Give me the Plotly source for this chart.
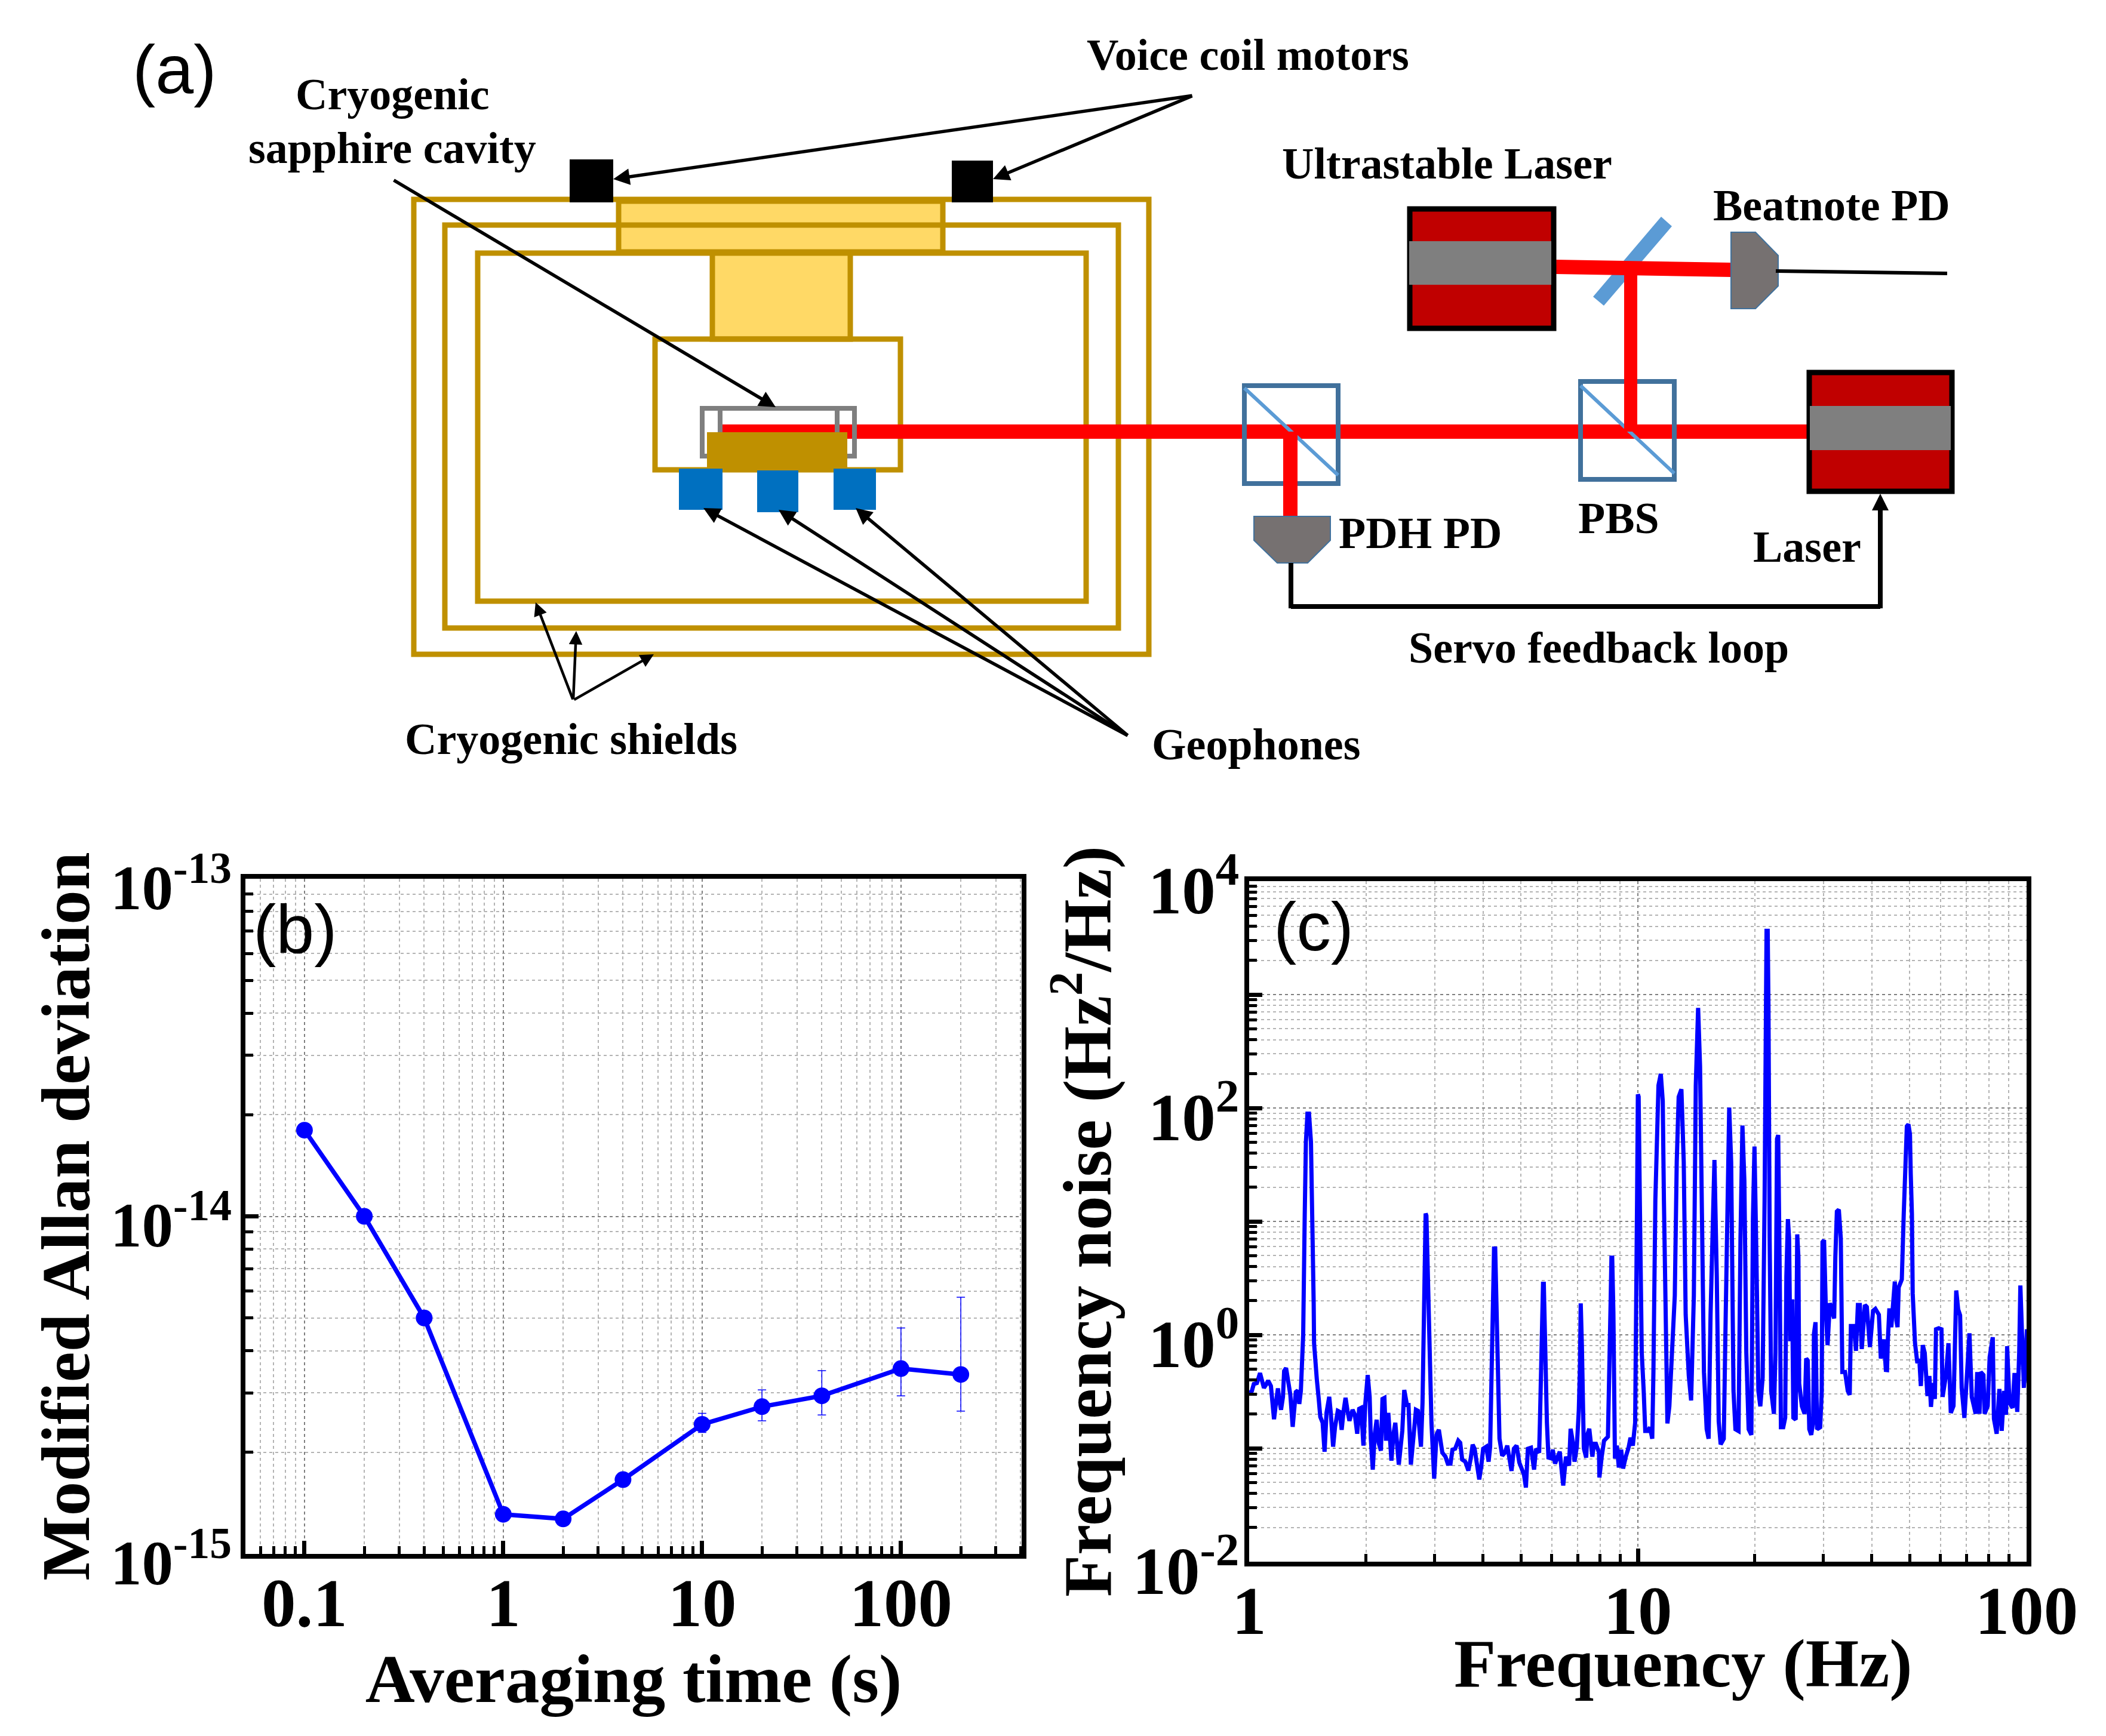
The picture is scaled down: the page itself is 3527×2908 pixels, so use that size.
import plotly.graph_objects as go

W, H = 3527, 2908

# ---------- panel (b) data ----------
tau_s = [0.1, 0.2, 0.4, 1, 2, 4, 10, 20, 40, 100, 200]
mod_adev = [1.8e-14, 1.0e-14, 5.0e-15, 1.31e-15, 1.27e-15, 1.66e-15, 2.42e-15, 2.73e-15, 2.94e-15, 3.54e-15, 3.40e-15]
err_up = [0, 0, 0, 0, 0, 0, 0.19e-15, 0.33e-15, 0.55e-15, 1.13e-15, 2.36e-15]
err_down = [0, 0, 0, 0, 0, 0, 0.13e-15, 0.25e-15, 0.36e-15, 0.60e-15, 0.75e-15]

# ---------- panel (c) data: spectrum (log10 Hz, log10 Hz^2/Hz) ----------
log10_freq = [
 .001,.007,.012,.020,.028,.033,.038,.043,.049,.056,.061,.064,.069,.074,.077,.082,.087,.090,.095,.101,.106,.112,.116,.120,.125,.129,.133,.137,
 .139,.143,.146,.150,.154,.159,.163,.166,.167,.170,.174,.179,.183,.189,.194,.199,.206,.210,.216,.221,.228,.233,.238,.243,.248,.253,.258,.266,
 .272,.278,.283,.288,.294,.299,.305,.310,.313,.318,.323,.328,.333,.339,.343,.348,.352,.358,.366,.371,.376,.385,.394,.399,.406,.410,.416,.423,
 .429,.434,.442,.446,.449,.452,.454,.456,.459,.462,.464,.469,.476,.482,.488,.493,.497,.505,.511,.518,.523,.530,.538,.543,.548,.556,.564,.570,
 .575,.580,.585,.592,.597,.602,.610,.616,.620,.623,.625,.628,.630,.633,.636,.638,.641,.644,.651,.658,.664,.670,.675,.681,.688,.695,.702,.707,
 .712,.717,.725,.733,.738,.746,.748,.753,.756,.758,.760,.761,.766,.770,.779,.781,.787,.794,.799,.808,.815,.823,.827,.833,.837,.843,.848,.851,
 .853,.856,.859,.861,.867,.870,.875,.879,.883,.887,.892,.900,.901,.907,.913,.923,.928,.930,.932,.934,.937,.938,.941,.946,.951,.957,.962,.969,
 .976,.981,.987,.993,.996,.998,1.000,1.002,1.005,1.010,1.015,1.019,1.026,1.031,1.037,1.040,1.045,1.049,1.053,1.059,1.064,1.067,1.072,1.076,
 1.081,1.088,1.095,1.100,1.105,1.112,1.118,1.123,1.131,1.137,1.144,1.149,1.152,1.155,1.160,1.165,1.170,1.177,1.182,1.187,1.194,1.197,1.203,
 1.208,1.213,1.221,1.226,1.231,1.235,1.240,1.246,1.251,1.259,1.264,1.269,1.274,1.279,1.285,1.292,1.296,1.300,1.305,1.310,1.315,1.321,1.326,
 1.328,1.331,1.334,1.336,1.339,1.343,1.350,1.354,1.358,1.361,1.365,1.368,1.374,1.379,1.382,1.386,1.389,1.392,1.397,1.400,1.406,1.410,1.413,
 1.415,1.422,1.429,1.433,1.437,1.441,1.446,1.451,1.453,1.457,1.461,1.469,1.473,1.475,1.479,1.484,1.488,1.494,1.505,1.508,1.512,1.517,1.522,
 1.526,1.533,1.540,1.545,1.548,1.556,1.561,1.566,1.571,1.576,1.584,1.589,1.597,1.605,1.611,1.620,1.625,1.633,1.638,1.641,1.643,1.647,1.652,
 1.657,1.661,1.665,1.668,1.671,1.679,1.684,1.688,1.692,1.696,1.700,1.702,1.705,1.707,1.713,1.719,1.724,1.728,1.733,1.738,1.745,1.750,1.754,
 1.759,1.764,1.767,1.774,1.781,1.784,1.793,1.799,1.805,1.812,1.819,1.824,1.829,1.833,1.840,1.846,1.853,1.859,1.869,1.873,1.879,1.882,1.889,
 1.892,1.900,1.905,1.913,1.916,1.923,1.930,1.936,1.942,1.947,1.950,1.956,1.964,1.969,1.976,1.981,1.984,1.990,1.993,2.001,2.005]
log10_noise = [
 -.512,-.495,-.433,-.425,-.337,-.389,-.468,-.442,-.404,-.451,-.600,-.744,-.600,-.472,-.565,-.661,-.547,-.319,-.293,-.407,-.530,-.811,-.635,-.504,-.491,-.609,-.495,-.249,
 0,1.06,1.7,1.95,1.95,1.7,1.06,.277,-.074,-.249,-.389,-.565,-.723,-.775,-1.03,-.688,-.547,-.688,-.986,-.811,-.670,-.679,-.837,-.670,-.556,-.670,-.758,-.661,
 -.705,-.872,-.653,-.644,-.977,-.600,-.354,-.547,-.916,-1.188,-.881,-.749,-.951,-1.021,-.565,-.556,-.933,-.688,-1.109,-.881,-.775,-1.144,-.846,-.486,-.618,-.618,-1.144,-.889,
 -.661,-.670,-.986,-.600,.1,.7,1.07,1.05,.6,.1,-.425,-.775,-1.267,-.881,-.837,-.933,-1.039,-1.074,-1.135,-1.135,-1.012,-1.004,-.933,-.951,-1.1,-1.118,-1.196,-1.091,
 -.968,-1.004,-1.144,-1.275,-1.161,-1.004,-.986,-1.118,-.986,-.4,0,.6,.76,.76,.3,.1,-.249,-.916,-1.065,-1.039,-.977,-1.135,-1.2,-1.004,-.977,-1.126,-1.188,-1.232,
 -1.346,-1.004,-.995,-1.188,-1.004,-1.039,-.775,.28,.45,.45,.1,-.249,-.775,-1.082,-1.091,-1.012,-1.135,-1.074,-1.03,-1.328,-1.074,-1.153,-.828,-.951,-1.118,-.986,-.67,-.3,
 .277,-.1,-.55,-1.0,-1.082,-.881,-.828,-.951,-1.074,-.96,-.96,-1.039,-1.258,-1.074,-.933,-.898,-.249,.3,.68,.68,.2,-.074,-1.091,-.977,-1.17,-1.012,-1.179,-1.074,
 -.995,-.907,-.977,-.775,.102,1.2,2.12,2.1,1.189,-.158,-.495,-.848,-.848,-.815,-.916,-.327,1.189,1.862,2.199,2.3,2.064,1.189,.178,-.781,
 -.63,-.158,.347,1.525,2.098,2.165,1.525,.178,-.36,-.579,.347,2.199,2.771,2.882,2.367,.852,-.327,-.832,-.916,.178,1.458,1.542,.515,
 -.764,-.966,-.916,.178,1.525,2.003,1.525,-.495,-.832,-.848,.852,1.845,1.357,-.158,-.832,-.882,1.02,1.66,.684,-.495,-.63,-.377,1.189,
 2.872,3.562,3.562,2.872,.852,-.495,-.697,-.158,1.727,1.761,.515,-.815,-.815,-.731,.515,1.02,.852,-.057,.313,-.731,-.747,.886,.684,
 -.428,-.63,-.697,-.209,-.226,-.832,-.882,-.764,.01,.111,-.832,-.815,-.495,.818,.835,.178,-.091,.279,.145,.684,1.088,1.104,.852,
 -.327,-.327,-.495,-.529,.077,.077,-.141,.263,.263,-.125,.263,.246,-.108,.212,.229,.178,-.209,-.04,-.31,-.311,-.056,.233,.067,
 .312,.47,.128,.067,.418,.488,1.067,1.593,1.839,1.856,1.768,1.418,1.067,.365,-.074,-.249,-.214,-.451,-.091,-.161,-.539,-.363,-.635,
 -.425,-.565,.049,.058,.049,-.547,-.346,-.074,-.688,-.626,.391,.225,.172,-.468,-.732,-.363,.014,-.547,-.696,-.328,-.696,-.328,-.354,
 -.696,-.626,-.196,-.021,-.74,-.872,-.477,-.846,-.495,-.705,-.1,-.6,-.644,-.337,-.679,-.161,.435,-.337,-.468,.049,-.425]

freq_hz = [10 ** v for v in log10_freq]
noise = [10 ** v for v in log10_noise]

# ---------- tick labels ----------
b_xticks = [0.1, 1, 10, 100]
b_xlabels = ["0.1", "1", "10", "100"]
b_yticks = [1e-15, 1e-14, 1e-13]
b_ylabels = ["10<sup>-15</sup>", "10<sup>-14</sup>", "10<sup>-13</sup>"]
c_xticks = [1, 10, 100]
c_xlabels = ["1", "10", "100"]
c_yticks = [1e-2, 1e-1, 1, 10, 100, 1000, 1e4]
c_ylabels = ["10<sup>-2</sup>", "", "10<sup>0</sup>", "", "10<sup>2</sup>", "", "10<sup>4</sup>"]

SERIF = "Liberation Serif"
SANS = "Liberation Sans"
GOLD = "#BF9000"
GOLD_FILL = "#FFD966"
BEAM = "#FF0000"
CASE = "#C00000"
GRAY = "#7F7F7F"
PDGRAY = "#767171"
CUBE = "#41719C"
GLASS = "#5B9BD5"
GEO = "#0070C0"
MAJOR_GRID = "#808080"
MINOR_GRID = "#b4b4b4"


def px(x):
    return x / W


def py(y):
    return 1 - y / H


def minor_vals(lo, hi):
    return [m * 10.0 ** d for d in range(lo, hi) for m in range(2, 10)]


def axis(tickvals, ticktext, rng, domain, minors, size, title=None, standoff=0, label_standoff=0, shift=0):
    d = dict(
        type="log", range=rng, domain=domain,
        tickmode="array", tickvals=tickvals, ticktext=ticktext,
        tickfont=dict(family=SERIF, size=size, color="black", weight=700),
        ticks="inside", ticklen=22, tickwidth=7, tickcolor="black",
        ticklabelstandoff=label_standoff, ticklabelshift=shift,
        showline=True, linewidth=8, linecolor="black", mirror=True,
        showgrid=True, gridcolor=MAJOR_GRID, gridwidth=2, griddash="5px,5px",
        zeroline=False, layer="above traces",
        minor=dict(tickmode="array", tickvals=minors, ticks="inside", ticklen=13, tickwidth=5,
                   tickcolor="black", showgrid=True, gridcolor=MINOR_GRID, gridwidth=2,
                   griddash="5px,5px"),
    )
    if title:
        d["title"] = dict(text=title, standoff=standoff,
                          font=dict(family=SERIF, size=115, color="black", weight=700))
    return d


fig = go.Figure()
fig.add_trace(go.Scatter(
    x=tau_s, y=mod_adev, mode="lines+markers", xaxis="x", yaxis="y", showlegend=False,
    line=dict(color="#0000FF", width=7.5), marker=dict(color="#0000FF", size=28),
    error_y=dict(type="data", symmetric=False, array=err_up, arrayminus=err_down,
                 color="#0000FF", thickness=1.5, width=7),
))
fig.add_trace(go.Scatter(
    x=freq_hz, y=noise, mode="lines", xaxis="x2", yaxis="y2", showlegend=False,
    line=dict(color="#0000FF", width=7),
))

# ---------- schematic (a) ----------
shapes = []


def rect(x0, y0, x1, y1, fill=None, line=None, w=0):
    shapes.append(dict(type="rect", xref="paper", yref="paper", x0=px(x0), x1=px(x1), y0=py(y0), y1=py(y1),
                       fillcolor=fill or "rgba(0,0,0,0)",
                       line=dict(color=line or "rgba(0,0,0,0)", width=w)))


def seg(x0, y0, x1, y1, color, w):
    shapes.append(dict(type="line", xref="paper", yref="paper", x0=px(x0), x1=px(x1), y0=py(y0), y1=py(y1),
                       line=dict(color=color, width=w)))


def poly(pts, fill, line=None, w=0):
    path = "M " + " L ".join(f"{px(a):.5f},{py(b):.5f}" for a, b in pts) + " Z"
    shapes.append(dict(type="path", xref="paper", yref="paper", path=path, fillcolor=fill,
                       line=dict(color=line or fill, width=w)))


rect(693, 334, 1924, 1096, line=GOLD, w=9)
rect(1036, 337, 1579, 422, fill=GOLD_FILL, line=GOLD, w=9)
rect(745, 377, 1873, 1052, line=GOLD, w=9)
rect(800, 424, 1819, 1007, line=GOLD, w=9)
rect(1193, 424, 1424, 568, fill=GOLD_FILL, line=GOLD, w=9)
rect(1097, 568, 1508, 787, line=GOLD, w=9)
seg(1210, 723, 3026, 723, BEAM, 24)
rect(1176, 684, 1431, 764, line=GRAY, w=8)
seg(1206, 684, 1206, 724, GRAY, 8)
seg(1402, 684, 1402, 724, GRAY, 8)
rect(1184, 724, 1419, 788, fill=GOLD)
rect(1137, 785, 1210, 854, fill=GEO)
rect(1268, 788, 1337, 858, fill=GEO)
rect(1396, 785, 1467, 854, fill=GEO)
rect(954, 267, 1027, 339, fill="black")
rect(1594, 269, 1663, 339, fill="black")

# cubes
rect(2084, 646, 2241, 810, line=CUBE, w=8)
seg(2084, 650, 2241, 796, GLASS, 6)
rect(2647, 639, 2804, 803, line=CUBE, w=8)
seg(2647, 646, 2804, 793, GLASS, 6)

# mirror and beams
poly([(2782, 363), (2800, 379), (2686, 512), (2668, 497)], GLASS)
seg(2606, 447, 2899, 452, BEAM, 24)
seg(2731, 449, 2731, 723, BEAM, 22)
seg(2161, 723, 2161, 865, BEAM, 24)

# lasers
rect(3030, 624, 3269, 823, fill=CASE, line="black", w=9)
rect(3031, 680, 3267, 754, fill=GRAY)
rect(2361, 350, 2602, 550, fill=CASE, line="black", w=9)
rect(2360, 404, 2598, 477, fill=GRAY)

# detectors
poly([(2899, 389), (2940, 389), (2978, 428), (2978, 479), (2940, 517), (2899, 517)], PDGRAY, CUBE, 2)
seg(2974, 454, 3261, 458, "black", 6)
poly([(2100, 865), (2228, 865), (2228, 905), (2190, 943), (2139, 943), (2100, 905)], PDGRAY, CUBE, 2)

# servo loop
seg(2162, 943, 2162, 1019, "black", 8)
seg(2162, 1016, 3149, 1016, "black", 8)
seg(3149, 1019, 3149, 850, "black", 8)

annotations = []


def label(text, x, y, size=74, family=SERIF, weight=700):
    annotations.append(dict(xref="paper", yref="paper", x=px(x), y=py(y), text=text, showarrow=False,
                            xanchor="center", yanchor="middle",
                            font=dict(family=family, size=size, color="black", weight=weight)))


def arrow(x0, y0, x1, y1, w=5.5, size=1.0):
    annotations.append(dict(xref="paper", yref="paper", x=px(x1), y=py(y1), ax=x0 - x1, ay=y0 - y1,
                            axref="pixel", ayref="pixel", text="", showarrow=True, arrowhead=2,
                            arrowsize=size, arrowwidth=w, arrowcolor="black", standoff=0, startstandoff=0))


label("Voice coil motors", 2090, 92)
label("Cryogenic", 657, 158)
label("sapphire cavity", 657, 248)
label("Ultrastable Laser", 2423, 274)
label("Beatnote PD", 3067, 344)
label("PDH PD", 2378, 893)
label("PBS", 2711, 868)
label("Laser", 3026, 916)
label("Servo feedback loop", 2677, 1085)
label("Cryogenic shields", 956, 1238)
label("Geophones", 2104, 1247)
label("(a)", 292, 116, size=115, family=SANS, weight=400)
label("(b)", 494, 1556, size=115, family=SANS, weight=400)
label("(c)", 2200, 1552, size=115, family=SANS, weight=400)
label("Frequency (Hz)", 2819, 2786, size=115)

arrow(1998, 160, 1027, 300)
arrow(1998, 160, 1663, 300)
arrow(658, 301, 1299, 682)
arrow(1890, 1233, 1178, 851)
arrow(1890, 1233, 1304, 854)
arrow(1890, 1233, 1433, 851)
arrow(960, 1173, 897, 1009, w=4.5)
arrow(960, 1173, 965, 1057, w=4.5)
arrow(960, 1173, 1095, 1096, w=4.5)
arrow(3149, 860, 3149, 827, w=7, size=0.8)

fig.update_layout(
    width=W, height=H, autosize=False,
    margin=dict(l=0, r=0, t=0, b=0, autoexpand=False),
    paper_bgcolor="white", plot_bgcolor="white", showlegend=False,
    shapes=shapes, annotations=annotations,
    xaxis=axis(b_xticks, b_xlabels, [-1.297, 2.607], [px(411), px(1711)], minor_vals(-2, 3), 115,
               title="Averaging time (s)", standoff=2, label_standoff=-25),
    yaxis=axis(b_yticks, b_ylabels, [-15, -13], [py(2603), py(1472)], minor_vals(-15, -13), 105,
               title="Modified Allan deviation", standoff=0, label_standoff=-6, shift=14),
    xaxis2=axis(c_xticks, c_xlabels, [0, 2], [px(2092), px(3394)], minor_vals(0, 2), 115, label_standoff=-25),
    yaxis2=axis(c_yticks, c_ylabels, [-2, 4], [py(2616), py(1476)], minor_vals(-2, 4), 113,
                title="Frequency noise (Hz<sup>2</sup>/Hz)", standoff=0, label_standoff=-14, shift=14),
)
fig.layout.xaxis2.anchor = "y2"
fig.layout.yaxis2.anchor = "x2"
fig.layout.xaxis.anchor = "y"
fig.layout.yaxis.anchor = "x"

fig.write_html("out.html", config=dict(displayModeBar=False),
               post_script="document.body.style.margin='0';")
